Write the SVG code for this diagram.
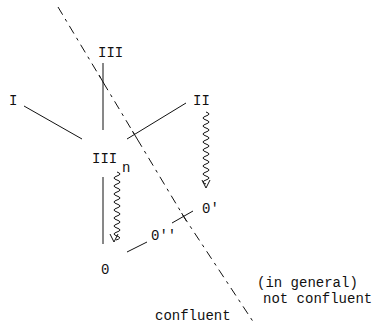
<svg xmlns="http://www.w3.org/2000/svg" width="373" height="333" viewBox="0 0 373 333">
<style>
text{font-family:"Liberation Mono","DejaVu Sans Mono",monospace;font-size:14px;fill:#111}
.ln{stroke:#111;stroke-width:1;fill:none}
.wv{stroke:#111;stroke-width:1;fill:none}
.ds{stroke:#111;stroke-width:1;fill:none;stroke-dasharray:9,5,3,5}
</style>
<defs>
<path id="ah" d="M-4,-8 L0,0 L4,-8" class="ln"/>
</defs>
<rect width="373" height="333" fill="#fff"/>
<g id="node-III"><text x="98" y="57">III</text></g>
<g id="node-I"><text x="9" y="105">I</text></g>
<g id="node-II"><text x="193" y="105">II</text></g>
<g id="node-IIIn"><text x="92" y="163">III</text><text x="122" y="172">n</text></g>
<g id="node-0p"><text x="202" y="213">0'</text></g>
<g id="node-0pp"><text x="151" y="240">0''</text></g>
<g id="node-0"><text x="101" y="274">0</text></g>
<g id="labels">
<text x="257" y="287">(in general)</text>
<text x="263" y="303">not confluent</text>
<text x="155" y="320">confluent</text>
</g>
<g id="connectors">
<line class="ln" x1="103" y1="63" x2="103" y2="130"/>
<line class="ln" x1="24" y1="106" x2="82" y2="139"/>
<line class="ln" x1="186" y1="103" x2="127" y2="139"/>
<line class="ln" x1="103" y1="177" x2="103" y2="244" stroke-width="1.5"/>
<line class="ln" x1="193" y1="211" x2="172" y2="223"/>
<line class="ln" x1="147" y1="242" x2="127" y2="252"/>
<path class="wv" d="M206,112 q6,2 0,4 t0,4 t0,4 t0,4 t0,4 t0,4 t0,4 t0,4 t0,4 t0,4 t0,4 t0,4 t0,4 t0,4 t0,4 t0,4 t0,4 t0,4"/>
<use href="#ah" x="206" y="188"/>
<path class="wv" d="M117,172 q6,2 0,4 t0,4 t0,4 t0,4 t0,4 t0,4 t0,4 t0,4 t0,4 t0,4 t0,4 t0,4 t0,4 t0,4 t0,4 t0,4 t-1,4"/>
<use href="#ah" x="114" y="242"/>
<polyline class="ds" points="58,7 184,217 254,323"/>
<line class="ln" x1="99" y1="75" x2="103.6" y2="83"/>
<line class="ln" x1="132.4" y1="131" x2="137.2" y2="139"/>
<line class="ln" x1="181.6" y1="213" x2="186.4" y2="221"/>
</g>
</svg>
